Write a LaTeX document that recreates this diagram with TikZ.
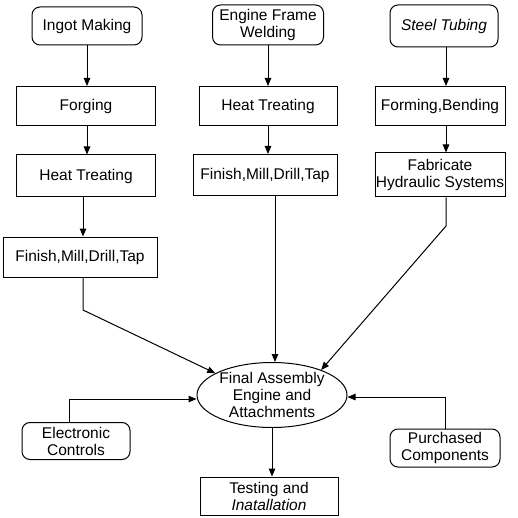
\documentclass[tikz,border=0pt]{standalone}
\usepackage{fontspec}
\setmainfont{Liberation Sans}
\usetikzlibrary{arrows.meta,positioning,shapes.geometric}

\begin{document}
\begin{tikzpicture}[x=1pt,y=-1pt,font=\fontsize{15.5}{17}\selectfont,
   box/.style={draw,line width=1pt,align=center,inner sep=0pt},
   rbox/.style={box,rounded corners=8pt},
   arr/.style={-{Triangle[length=8pt,width=6.5pt]},line width=1pt}]
  \useasboundingbox (0,0) rectangle (518,518);
  % top row
  \node[rbox,minimum width=110pt,minimum height=38pt] (ingot) at (87,26) {Ingot Making};
  \node[rbox,minimum width=111pt,minimum height=40pt] (engine) at (268,25) {Engine Frame\\Welding};
  \node[rbox,minimum width=108pt,minimum height=42pt] (steel) at (444,26) {\itshape Steel Tubing};
  % second row
  \node[box,minimum width=139pt,minimum height=39pt] (forging) at (86,106) {Forging};
  \node[box,minimum width=138pt,minimum height=39pt] (heatM) at (268,106) {Heat Treating};
  \node[box,minimum width=130pt,minimum height=39pt] (forming) at (440,106) {Forming,Bending};
  % third row
  \node[box,minimum width=139pt,minimum height=42pt] (heatL) at (86,176) {Heat Treating};
  \node[box,minimum width=144pt,minimum height=41pt] (finM) at (265,175) {Finish,Mill,Drill,Tap};
  \node[box,minimum width=130pt,minimum height=44pt] (fab) at (440,175) {Fabricate\\Hydraulic Systems};
  \node[box,minimum width=154pt,minimum height=40pt] (finL) at (80,257) {Finish,Mill,Drill,Tap};
  % assembly
  \node[draw,ellipse,line width=1pt,align=center,inner sep=0pt,
        minimum width=150pt,minimum height=65pt] (final) at (272,395)
        {Final Assembly\\Engine and\\Attachments};
  \node[rbox,minimum width=108pt,minimum height=37pt] (elec) at (76,441) {Electronic\\Controls};
  \node[rbox,minimum width=110pt,minimum height=38pt] (purch) at (445,448) {Purchased\\Components};
  \node[box,minimum width=138pt,minimum height=38pt] (test) at (269,496) {Testing and\\\itshape Inatallation};
  \coordinate (bendL) at (83,310);
  \coordinate (bendR) at (446,226);
  % connectors
  \draw[arr] (ingot) -- (ingot |- forging.north);
  \draw[arr] (forging.south -| ingot) -- (ingot |- heatL.north);
  \draw[arr] (heatL.south -| bendL) -- (bendL |- finL.north);
  \draw[arr] (engine) -- (engine |- heatM.north);
  \draw[arr] (heatM.south -| engine) -- (engine |- finM.north);
  \draw[arr] (steel.south -| bendR) -- (bendR |- forming.north);
  \draw[arr] (forming.south -| bendR) -- (bendR |- fab.north);
  \draw[arr] (finL.south -| bendL) -- (bendL) -- (final.159);
  \draw[arr] ([xshift=10pt]finM.south) -- ([xshift=3pt]final.north);
  \draw[arr] (fab.south -| bendR) -- (bendR) -- (final.27);
  \draw[arr] ([xshift=-7pt]elec.north) |- ([yshift=-4pt]final.west);
  \draw[arr] (purch.north) |- ([yshift=-2pt]final.east);
  \draw[arr] (final) -- (final |- test.north);
\end{tikzpicture}
\end{document}
